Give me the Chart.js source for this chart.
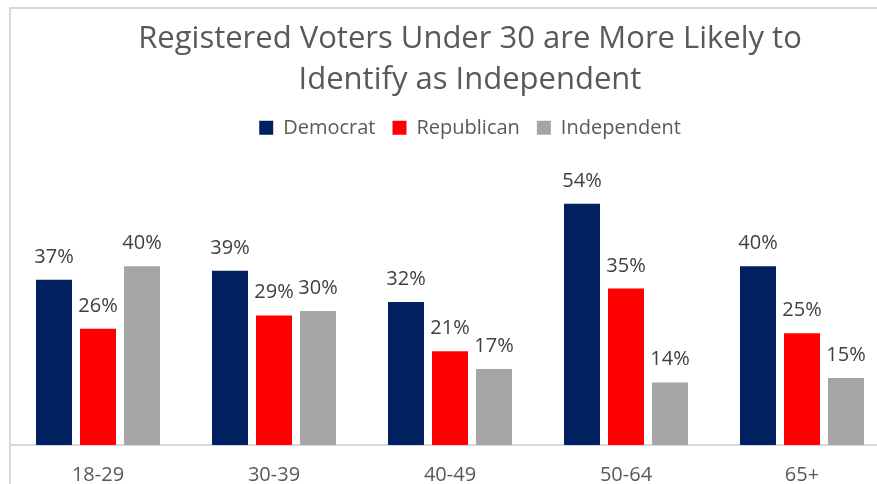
<!DOCTYPE html>
<html lang="en">
<head>
  <meta charset="UTF-8" />
  <title>Registered Voters by Age</title>
  <script src="https://cdn.jsdelivr.net/npm/chart.js"></script>
  <style>
    html, body { margin: 0; padding: 0; background: #fff; overflow: hidden; }
    body { width: 877px; height: 484px; position: relative; }
    #frame {
      position: absolute; left: 9px; top: 7px; width: 960px; height: 520px;
      border-top: 2px solid #d9d9d9; border-left: 2px solid #d9d9d9;
    }
    #wrap { position: absolute; left: 10px; top: 8px; width: 920px; height: 476px; }
  </style>
</head>
<body>
  <div id="frame"></div>
  <div id="wrap"><canvas id="chart"></canvas></div>

  <script>
    const ageGroups = ["18-29", "30-39", "40-49", "50-64", "65+"];
    const democrat = [37, 39, 32, 54, 40];
    const republican = [26, 29, 21, 35, 25];
    const independent = [40, 30, 17, 14, 15];
    const titleLines = ["Registered Voters Under 30 are More Likely to", "Identify as Independent"];

    const FONT = "'Open Sans', sans-serif";

    // percent labels above each bar
    const barLabels = {
      id: "barLabels",
      afterDatasetsDraw(chart) {
        const ctx = chart.ctx;
        ctx.save();
        ctx.font = "20px " + FONT;
        ctx.fillStyle = "#404040";
        ctx.textAlign = "center";
        ctx.textBaseline = "alphabetic";
        chart.data.datasets.forEach((ds, i) => {
          chart.getDatasetMeta(i).data.forEach((bar, j) => {
            ctx.fillText(ds.data[j] + "%", bar.x, bar.y - 17);
          });
        });
        ctx.restore();
      }
    };

    // extra gap under the legend
    const legendGap = {
      id: "legendGap",
      beforeInit(chart) {
        const fit = chart.legend.fit;
        chart.legend.fit = function () {
          fit.call(this);
          this.height += 29;
        };
      }
    };

    new Chart(document.getElementById("chart"), {
      type: "bar",
      data: {
        labels: ageGroups,
        datasets: [
          { label: "Democrat", data: democrat, backgroundColor: "#002060" },
          { label: "Republican", data: republican, backgroundColor: "#ff0000" },
          { label: "Independent", data: independent, backgroundColor: "#a5a5a5" }
        ]
      },
      options: {
        responsive: true,
        maintainAspectRatio: false,
        animation: false,
        layout: { padding: 0 },
        datasets: { bar: { categoryPercentage: 0.75, barPercentage: 0.818 } },
        plugins: {
          title: {
            display: true,
            text: titleLines,
            color: "#595959",
            font: { family: FONT, size: 31, weight: "normal", lineHeight: 1.32 },
            padding: { top: 11, bottom: 0 }
          },
          legend: {
            display: true,
            labels: {
              color: "#595959",
              font: { family: FONT, size: 20 },
              boxWidth: 14,
              boxHeight: 14,
              padding: 17
            }
          },
          tooltip: { enabled: false }
        },
        scales: {
          x: {
            afterFit(scale) { scale.height = 39; },
            grid: { display: false, drawTicks: false },
            border: { display: true, color: "#d9d9d9", width: 2 },
            ticks: { color: "#595959", font: { family: FONT, size: 20 }, padding: 18 }
          },
          y: {
            display: false,
            min: 0,
            max: 60
          },
          // empty right-hand axis: keeps the plot ending at 890px while the title stays centred on the full frame
          yRight: {
            position: "right",
            afterFit(scale) { scale.width = 40; },
            grid: { display: false },
            border: { display: false },
            ticks: { display: false }
          }
        }
      },
      plugins: [barLabels, legendGap]
    });
  </script>
</body>
</html>
